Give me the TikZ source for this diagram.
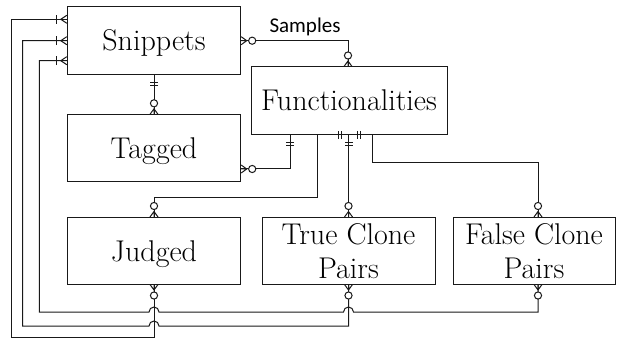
\documentclass[tikz,border=0pt]{standalone}
\usepackage{fontspec}
\newfontfamily\labelfont{Carlito}
\usetikzlibrary{calc}

\tikzset{
  entity/.style={draw=black!90, line width=1pt, rectangle, inner sep=0pt,
    font=\rmfamily\fontsize{30}{34}\selectfont, align=center,
    text height=20.5pt, text depth=0pt},
  twoline/.style={text height=54.5pt},
  rel/.style={draw=black!90, line width=1pt},
  % zero or many: crow's foot at the entity, open circle beyond it
  zmany/.pic={
    \draw[rel] (0,-4) -- (5.5,0) -- (0,4) (0,0) -- (5.5,0);
    \draw[rel, fill=white] (11,0) circle[radius=3.6pt];
  },
  % one or many: crow's foot at the entity, bar beyond it
  omany/.pic={
    \draw[rel] (0,-4) -- (6,0) -- (0,4);
    \draw[rel] (10.5,-4.5) -- (10.5,4.5);
  },
  % one and only one: two bars
  oneone/.pic={
    \draw[rel] (8,-4) -- (8,4) (11,-4) -- (11,4);
  },
}

\begin{document}
\begin{tikzpicture}[x=1pt, y=-1pt]
\useasboundingbox (0,0) rectangle (618,339);

% entities
\node[entity, minimum width=173.4pt, minimum height=67.3pt] (snip) at (154,40.4) {Snippets};
\node[entity, minimum width=173.4pt, minimum height=67pt] (tag) at (154,148.3) {Tagged};
\node[entity, minimum width=196pt, minimum height=67.5pt] (func) at (349,100.75) {Functionalities};
\node[entity, minimum width=173.4pt, minimum height=66.5pt] (judged) at (154,250.75) {Judged};
\node[entity, twoline, minimum width=173pt, minimum height=66.5pt] (true) at (348.5,250.75) {True Clone\\Pairs};
\node[entity, twoline, minimum width=162pt, minimum height=66.5pt] (false) at (534,250.75) {False Clone\\Pairs};

% Snippets -- Functionalities (Samples)
\coordinate (sf) at (348,40.7);
\draw[rel] (snip.east |- sf) -- (sf) -- (sf |- func.north);
\node[font=\labelfont\fontsize{21}{21}\selectfont, anchor=base] (samples) at (305,33) {Samples};
\pic[rotate=0] at (snip.east |- sf) {zmany};
\pic[rotate=90] at (sf |- func.north) {zmany};

% Snippets -- Tagged
\draw[rel] (snip.south) -- (tag.north);
\pic[rotate=-90] at (snip.south) {oneone};
\pic[rotate=90] at (tag.north) {zmany};

% Tagged -- Functionalities
\coordinate (tf) at (290,169);
\draw[rel] (tag.east |- tf) -- (tf) -- (tf |- func.south);
\pic[rotate=0] at (tag.east |- tf) {zmany};
\pic[rotate=-90] at (tf |- func.south) {oneone};

% Functionalities -- Judged
\coordinate (fj) at (317,198);
\draw[rel] (func.south) -- (fj |- func.south) -- (fj) -| (judged.north);
\pic[rotate=180] at (func.south) {oneone};
\pic[rotate=90] at (judged.north) {zmany};

% Functionalities -- True Clone Pairs
\coordinate (ft) at (348.5,0);
\draw[rel] (ft |- func.south) -- (ft |- true.north);
\pic[rotate=-90] at (ft |- func.south) {oneone};
\pic[rotate=90] at (ft |- true.north) {zmany};

% Functionalities -- False Clone Pairs
\coordinate (ff) at (372,163);
\coordinate (fc) at (538,0);
\draw[rel] (func.south) -- (ff |- func.south) -- (ff) -| (fc |- false.north);
\pic[rotate=0] at (func.south) {oneone};
\pic[rotate=90] at (fc |- false.north) {zmany};

% Judged -- Snippets (outer loop)
\coordinate (jl) at (11.7,337.5);
\coordinate (js) at (11.7,19.3);
\draw[rel] (judged.south) -- (judged.south |- jl) -- (jl) -- (js) -- (snip.west |- js);
\pic[rotate=-90] at (judged.south) {zmany};
\pic[rotate=180] at (snip.west |- js) {omany};

% True Clone Pairs -- Snippets (hops over the Judged line)
\coordinate (tl) at (22.7,326);
\coordinate (ts) at (22.7,40.7);
\draw[rel] (ft |- true.south) -- (348.5,326) -- (159,326)
  arc[start angle=0, end angle=180, radius=5pt] -- (tl) -- (ts) -- (snip.west |- ts);
\pic[rotate=-90] at (ft |- true.south) {zmany};
\pic[rotate=180] at (snip.west |- ts) {omany};

% False Clone Pairs -- Snippets (hops over two lines)
\coordinate (pl) at (39.3,312);
\coordinate (ps) at (39.3,60.7);
\draw[rel] (fc |- false.south) -- (538,312) -- (353.5,312)
  arc[start angle=0, end angle=180, radius=5pt] -- (159,312)
  arc[start angle=0, end angle=180, radius=5pt] -- (pl) -- (ps) -- (snip.west |- ps);
\pic[rotate=-90] at (fc |- false.south) {zmany};
\pic[rotate=180] at (snip.west |- ps) {omany};

\end{tikzpicture}
\end{document}
